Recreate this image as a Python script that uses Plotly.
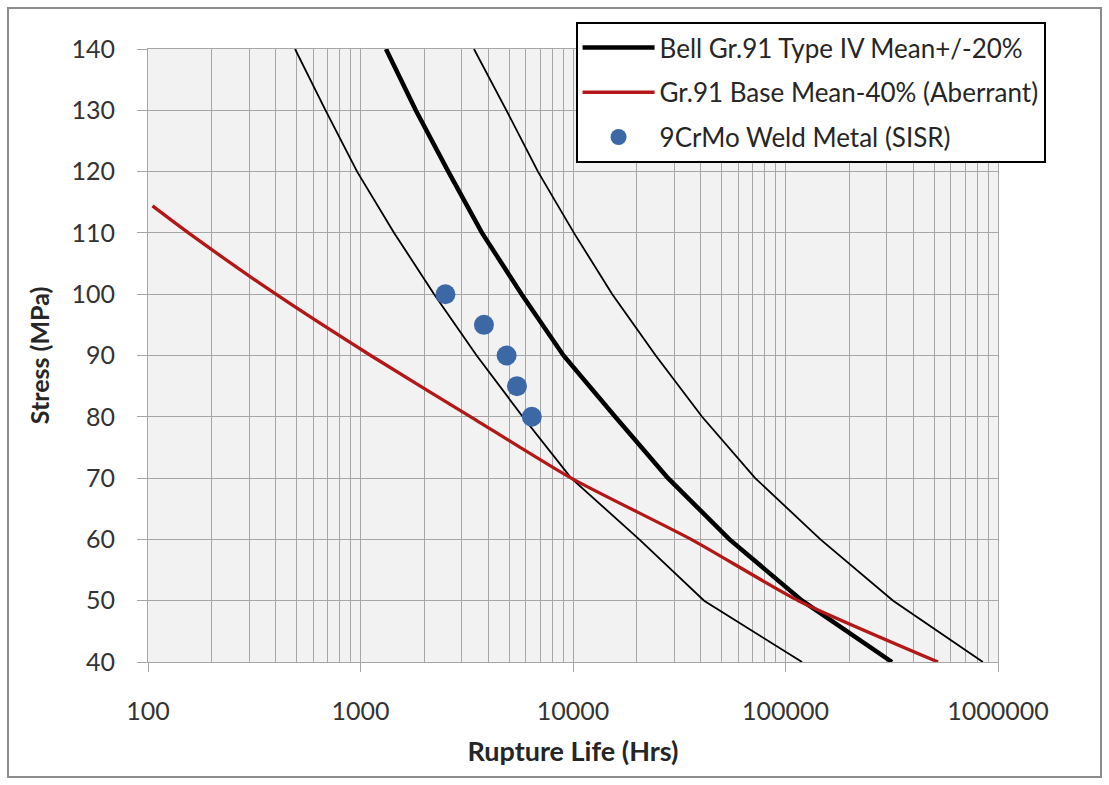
import plotly.graph_objects as go

# Stress levels (MPa)
stress = [140, 130, 120, 110, 100, 90, 80, 70, 60, 50, 40]
# Bell Gr.91 Type IV curves: rupture life (hrs)
mean_life = [1318, 1820, 2590, 3730, 5730, 9020, 15800, 28000, 54500, 119700, 317000]
lower_life = [492, 685, 964, 1440, 2220, 3520, 5800, 9800, 20500, 41400, 119600]
upper_life = [3420, 4860, 6840, 10100, 15300, 24500, 40500, 72000, 146000, 321000, 849000]

# Gr.91 Base Mean-40% (Aberrant)
red_stress = [114.4, 110, 100, 90, 80, 70, 60, 50, 40]
red_life = [105, 155, 400, 1117, 3300, 9800, 36000, 115000, 522000]

# 9CrMo Weld Metal (SISR) test points
pt_life = [2510, 3810, 4870, 5450, 6400]
pt_stress = [100, 95, 90, 85, 80]

x_ticks = [100, 1000, 10000, 100000, 1000000]
x_labels = ["100", "1000", "10000", "100000", "1000000"]
y_ticks = [40, 50, 60, 70, 80, 90, 100, 110, 120, 130, 140]

fig = go.Figure()
fig.add_trace(go.Scatter(x=lower_life, y=stress, mode="lines",
                         line=dict(color="black", width=1.8),
                         showlegend=False, legendgroup="a"))
fig.add_trace(go.Scatter(x=upper_life, y=stress, mode="lines",
                         line=dict(color="black", width=1.8),
                         showlegend=False, legendgroup="a"))
fig.add_trace(go.Scatter(x=mean_life, y=stress, mode="lines",
                         line=dict(color="black", width=4.5),
                         name="Bell Gr.91 Type IV Mean+/-20%", legendgroup="a"))
fig.add_trace(go.Scatter(x=red_life, y=red_stress, mode="lines",
                         line=dict(color="#b31717", width=3.3, shape="spline", smoothing=0.6),
                         name="Gr.91 Base Mean-40% (Aberrant)", legendgroup="b"))
fig.add_trace(go.Scatter(x=pt_life, y=pt_stress, mode="markers",
                         marker=dict(color="#3c68a6", size=20),
                         name="9CrMo Weld Metal (SISR)", legendgroup="c"))

grid_col = "#a6a6a6"
fig.update_xaxes(type="log", range=[2, 6], tickvals=x_ticks, ticktext=x_labels,
                 showgrid=True, gridcolor=grid_col, gridwidth=1,
                 ticks="outside", ticklen=9, tickcolor=grid_col,
                 ticklabelstandoff=18,
                 minor=dict(dtick="D1", showgrid=True, gridcolor=grid_col, gridwidth=1, ticks=""),
                 showline=True, linecolor=grid_col, mirror=True, zeroline=False,
                 tickfont=dict(family="Lato", size=25, color="#333333"),
                 title=dict(text="<b>Rupture Life (Hrs)</b>", font=dict(family="Lato", size=27, color="#262626"),
                            standoff=18))
fig.update_yaxes(range=[40, 140], tickvals=y_ticks, showgrid=True, gridcolor=grid_col,
                 ticks="outside", ticklen=10, tickcolor=grid_col,
                 ticklabelstandoff=17,
                 showline=True, linecolor=grid_col, mirror=True, zeroline=False,
                 tickfont=dict(family="Lato", size=25, color="#333333"),
                 title=dict(text="<b>Stress (MPa)</b>", font=dict(family="Lato", size=25, color="#262626"),
                            standoff=14))

fig.add_shape(type="rect", xref="paper", yref="paper",
              x0=-0.1647, x1=1.1212, y0=-0.1876, y1=1.0669,
              line=dict(color="#8c8c8c", width=2), fillcolor="rgba(0,0,0,0)", layer="below")

fig.update_layout(
    width=1109, height=785,
    margin=dict(l=148, r=111, t=49, b=123),
    paper_bgcolor="white", plot_bgcolor="#f2f2f2",
    legend=dict(x=0.503, y=1.044, xanchor="left", yanchor="top",
                bgcolor="white", bordercolor="black", borderwidth=2,
                font=dict(family="Lato", size=26, color="#262626"),
                itemwidth=72, tracegroupgap=8),
    showlegend=True,
)

fig.write_html("out.html")
